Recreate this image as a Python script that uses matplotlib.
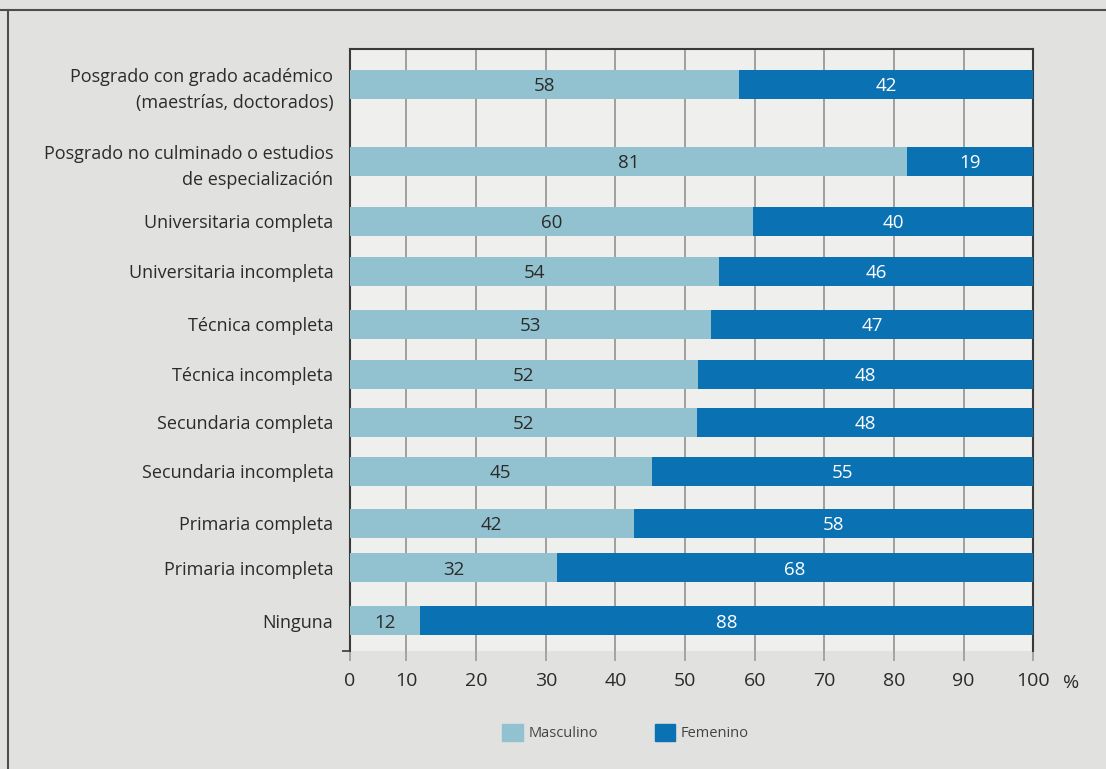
import matplotlib
matplotlib.use("Agg")
import matplotlib.pyplot as plt
from matplotlib.lines import Line2D
from matplotlib.patches import Patch

plt.rcParams['font.family'] = ['Open Sans', 'DejaVu Sans']

# data
categories = [
    "Posgrado con grado académico\n(maestrías, doctorados)",
    "Posgrado no culminado o estudios\nde especialización",
    "Universitaria completa",
    "Universitaria incompleta",
    "Técnica completa",
    "Técnica incompleta",
    "Secundaria completa",
    "Secundaria incompleta",
    "Primaria completa",
    "Primaria incompleta",
    "Ninguna",
]
masculino = [57.8, 81.9, 59.8, 54.8, 53.7, 51.8, 51.7, 45.2, 42.6, 31.6, 12.0]
femenino = [100 - m for m in masculino]
masc_labels = [58, 81, 60, 54, 53, 52, 52, 45, 42, 32, 12]
fem_labels = [42, 19, 40, 46, 47, 48, 48, 55, 58, 68, 88]
x_ticks = [10, 20, 30, 40, 50, 60, 70, 80, 90, 100]

# layout (rows are not evenly spaced in the original)
row_pos = [0.70, 2.24, 3.44, 4.44, 5.50, 6.50, 7.46, 8.44, 9.48, 10.36, 11.42]
y_max = 12.03
x_min = 1.9
bar_h = 0.58

c_masc = '#92c2d0'
c_fem = '#0a71b3'
txt = '#2b2b2b'
grid_c = '#999999'
dark = '#3a3a3a'

fig = plt.figure(figsize=(11.06, 7.69), dpi=100)
fig.patch.set_facecolor('#e1e1e0')
ax = fig.add_axes([0.3165, 0.1534, 0.6178, 0.7825])
ax.set_facecolor('#efefee')

ax.barh(row_pos, masculino, height=bar_h, color=c_masc, zorder=3)
ax.barh(row_pos, femenino, left=masculino, height=bar_h, color=c_fem, zorder=3)

for y, m, ml, fl in zip(row_pos, masculino, masc_labels, fem_labels):
    ax.text((max(0, x_min) + m) / 2, y, str(ml), ha='center', va='center_baseline',
            fontsize=13.5, color=txt, zorder=4)
    ax.text((m + 100) / 2, y, str(fl), ha='center', va='center_baseline',
            fontsize=13.5, color='white', zorder=4)

ax.set_xlim(x_min, 100)
ax.set_ylim(y_max, 0)

ax.set_xticks([x_min] + x_ticks, ['0'] + [str(t) for t in x_ticks])
ax.tick_params(axis='x', length=7, width=1.2, color=grid_c, labelsize=14,
               labelcolor=txt, pad=8)
ax.xaxis.grid(True, color=grid_c, linewidth=1.3, zorder=1)
ticks = ax.xaxis.get_major_ticks()
for t in (ticks[0], ticks[-1]):
    t.tick1line.set_color(dark)

ax.set_yticks(row_pos, categories)
ax.tick_params(axis='y', length=0, labelsize=13, labelcolor=txt, pad=12)
for lab in ax.get_yticklabels():
    lab.set_linespacing(1.55)
ax.set_yticks([y_max], minor=True)
ax.tick_params(axis='y', which='minor', length=6, width=1.2, color=dark)

for side in ('left', 'top', 'right'):
    ax.spines[side].set_color(dark)
    ax.spines[side].set_linewidth(1.5)
ax.spines['bottom'].set_visible(False)

ax.text(1.055, -0.038, '%', transform=ax.transAxes, fontsize=14, color=txt,
        ha='center', va='top')

handles = [Patch(color=c_masc, label='Masculino'), Patch(color=c_fem, label='Femenino')]
leg = fig.legend(handles=handles, loc='center', bbox_to_anchor=(0.5656, 0.047), ncol=2,
                 frameon=False, fontsize=10.5, handlelength=1.4, handleheight=1.4,
                 handletextpad=0.4, columnspacing=3.9, labelcolor='#444444')

# frame lines of the original box
fig.add_artist(Line2D([0, 1], [1 - 9.5 / 769] * 2, color='#4d4d4d', linewidth=1.5,
                      transform=fig.transFigure))
fig.add_artist(Line2D([8 / 1106] * 2, [0, 1 - 9.5 / 769], color='#4d4d4d', linewidth=1.5,
                      transform=fig.transFigure))

fig.savefig('out.png', dpi=100, facecolor=fig.get_facecolor())
